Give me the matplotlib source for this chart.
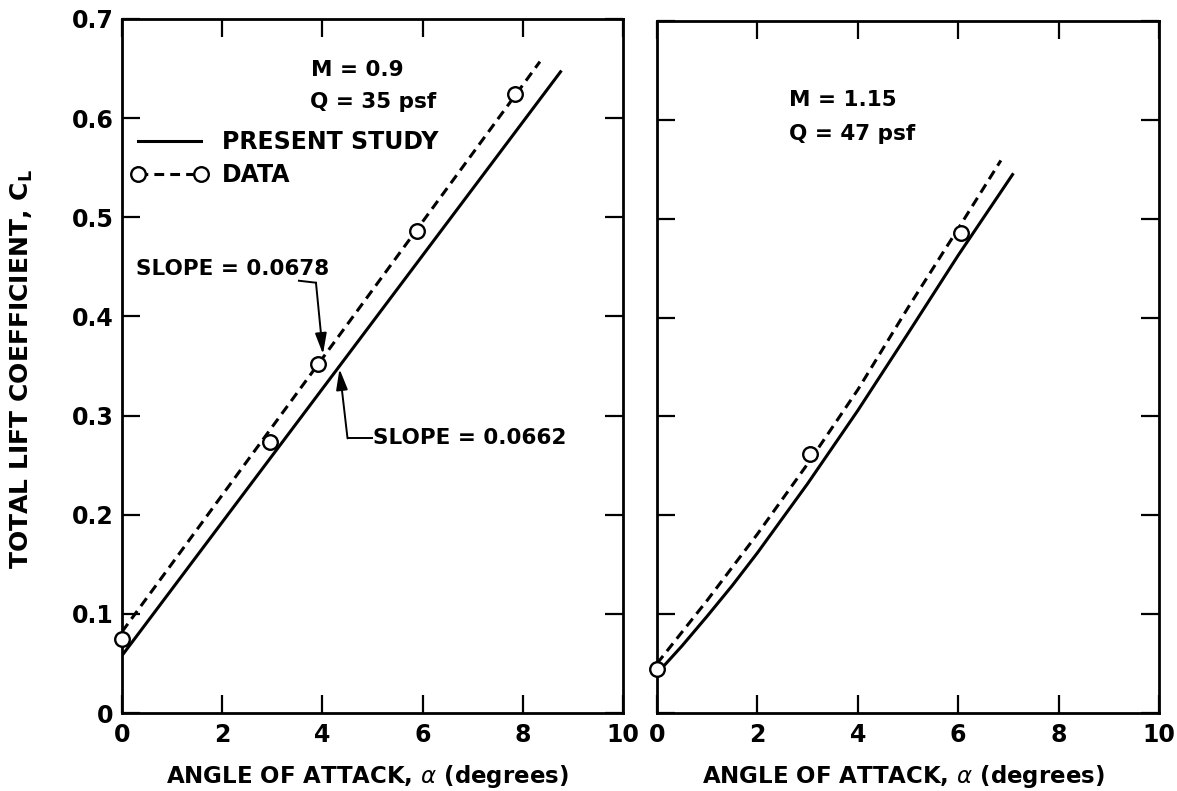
import numpy as np
import matplotlib
matplotlib.use('Agg')
import matplotlib.pyplot as plt
from matplotlib.lines import Line2D

plt.rcParams['font.family'] = ['DejaVu Sans']
plt.rcParams['font.weight'] = 'bold'
plt.rcParams['mathtext.fontset'] = 'custom'
plt.rcParams['mathtext.rm'] = 'DejaVu Sans:weight=bold'
plt.rcParams['mathtext.it'] = 'DejaVu Sans:style=italic:weight=normal'

# ---- data ----
# left panel: M = 0.9, Q = 35 psf
alpha_data_09 = [0.0, 2.95, 3.91, 5.88, 7.84]
cl_data_09 = [0.075, 0.273, 0.352, 0.486, 0.624]
alpha_fit_09 = [0.0, 8.34]          # dashed fit through data
cl_fit_09 = [0.082, 0.657]
alpha_study_09 = [0.0, 8.77]        # present study
cl_study_09 = [0.058, 0.648]

# right panel: M = 1.15, Q = 47 psf
alpha_data_115 = [0.0, 3.04, 6.05]
cl_data_115 = [0.045, 0.262, 0.486]
alpha_fit_115 = [0.0, 1.0, 2.0, 3.0, 4.0, 5.0, 6.0, 6.85]
cl_fit_115 = [0.050, 0.114, 0.181, 0.252, 0.327, 0.410, 0.490, 0.559]
alpha_study_115 = [0.0, 0.5, 1.0, 1.5, 2.0, 3.0, 4.0, 5.0, 6.0, 7.1]
cl_study_115 = [0.040, 0.068, 0.098, 0.129, 0.162, 0.232, 0.306, 0.384, 0.463, 0.546]

x_ticks = [0, 2, 4, 6, 8, 10]
y_ticks = [0, 0.1, 0.2, 0.3, 0.4, 0.5, 0.6, 0.7]
y_ticklabels = ['0', '0.1', '0.2', '0.3', '0.4', '0.5', '0.6', '0.7']

FS_TICK = 17
FS_XLAB = 16.5
FS_YLAB = 18
FS_LEG = 17
FS_NOTE = 15.5
LW = 2.2
DASH = (3.2, 2.0)

fig = plt.figure(figsize=(11.77, 7.91), dpi=100)
ax1 = fig.add_axes([0.1037, 0.0986, 0.4257, 0.8774])
ax2 = fig.add_axes([0.5582, 0.0986, 0.4265, 0.8748])


def style_axes(ax, ylabels=True):
    ax.set_xlim(0, 10)
    ax.set_ylim(0, 0.7)
    ax.set_xticks(x_ticks)
    ax.set_xticklabels([str(t) for t in x_ticks])
    ax.set_yticks(y_ticks)
    if ylabels:
        ax.set_yticklabels(y_ticklabels)
    else:
        ax.set_yticklabels([])
    ax.tick_params(direction='in', length=13, width=1.6, top=True, right=True,
                   labelsize=FS_TICK)
    ax.tick_params(axis='x', pad=7)
    ax.tick_params(axis='y', pad=6)
    for spine in ax.spines.values():
        spine.set_linewidth(2.0)
    ax.set_xlabel(r'ANGLE OF ATTACK, $\alpha$ (degrees)', fontsize=FS_XLAB,
                  fontweight='bold', va='baseline')
    ax.xaxis.set_label_coords(0.49, -0.1005)


def draw_panel(ax, a_study, c_study, a_fit, c_fit, a_data, c_data):
    ax.plot(a_study, c_study, color='black', lw=LW, solid_capstyle='butt',
            solid_joinstyle='round')
    ax.plot(a_fit, c_fit, color='black', lw=LW, ls=(0, DASH))
    ax.plot(a_data, c_data, ls='none', marker='o', ms=10.5, mfc='white',
            mec='black', mew=1.7, clip_on=False, zorder=5)


# ---- left panel ----
draw_panel(ax1, alpha_study_09, cl_study_09, alpha_fit_09, cl_fit_09,
           alpha_data_09, cl_data_09)
style_axes(ax1, ylabels=True)
ax1.set_ylabel(r'TOTAL LIFT COEFFICIENT, C$_{\mathrm{L}}$', fontsize=FS_YLAB,
               fontweight='bold', va='center')
ax1.yaxis.set_label_coords(-0.2, 0.495)

ax1.text(3.78, 0.649, 'M = 0.9', fontsize=FS_NOTE, fontweight='bold', va='center')
ax1.text(3.76, 0.616, 'Q = 35 psf', fontsize=FS_NOTE, fontweight='bold', va='center')

h_study = Line2D([], [], color='black', lw=LW)
h_data = Line2D([], [], color='black', lw=LW, ls=(0, DASH), marker='o',
                ms=10.5, mfc='white', mec='black', mew=1.7)
leg = ax1.legend([h_study, h_data], ['PRESENT STUDY', 'DATA'],
                 loc='upper left', bbox_to_anchor=(0.018, 0.84),
                 frameon=False, fontsize=FS_LEG, numpoints=2, handlelength=3.25,
                 handletextpad=0.6, labelspacing=0.38, borderpad=0,
                 borderaxespad=0)

# slope annotations
arrow_kw = dict(arrowstyle='-|>,head_length=0.9,head_width=0.25',
                color='black', lw=1.4, shrinkA=0, shrinkB=0, mutation_scale=14)
ax1.text(0.28, 0.448, 'SLOPE = 0.0678', fontsize=FS_NOTE, fontweight='bold',
         va='center')
ax1.plot([3.53, 3.87], [0.436, 0.434], color='black', lw=1.4)
ax1.annotate('', xy=(4.01, 0.362), xytext=(3.87, 0.434), arrowprops=arrow_kw)

ax1.text(5.0, 0.277, 'SLOPE = 0.0662', fontsize=FS_NOTE, fontweight='bold',
         va='center')
ax1.plot([4.98, 4.5], [0.277, 0.277], color='black', lw=1.4)
ax1.annotate('', xy=(4.34, 0.347), xytext=(4.5, 0.277), arrowprops=arrow_kw)

# ---- right panel ----
draw_panel(ax2, alpha_study_115, cl_study_115, alpha_fit_115, cl_fit_115,
           alpha_data_115, cl_data_115)
style_axes(ax2, ylabels=False)
ax2.text(2.62, 0.620, 'M = 1.15', fontsize=FS_NOTE, fontweight='bold', va='center')
ax2.text(2.62, 0.586, 'Q = 47 psf', fontsize=FS_NOTE, fontweight='bold', va='center')

fig.savefig('out.png', dpi=100)
